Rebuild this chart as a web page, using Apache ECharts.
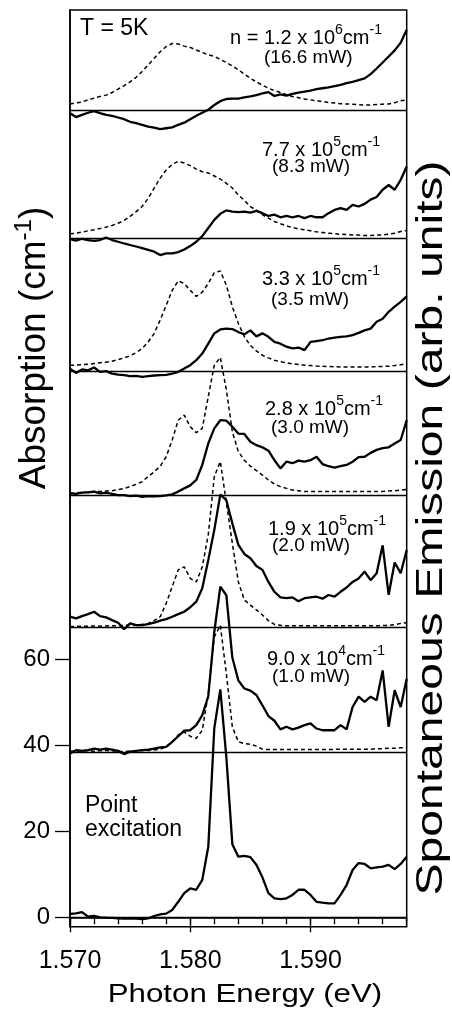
<!DOCTYPE html>
<html><head><meta charset="utf-8">
<script src="https://cdn.jsdelivr.net/npm/echarts@6/dist/echarts.min.js"></script>
<style>html,body{margin:0;padding:0;background:#fff}#c{width:452px;height:1012px}</style>
</head><body><div id="c"></div>
<script>
// Photon energy grid (eV)
const energy = [1.5700,1.5705,1.5710,1.5715,1.5720,1.5725,1.5730,1.5735,1.5740,1.5745,
1.5750,1.5755,1.5760,1.5765,1.5770,1.5775,1.5780,1.5785,1.5790,1.5795,
1.5800,1.5805,1.5810,1.5815,1.5820,1.5825,1.5830,1.5835,1.5840,1.5845,
1.5850,1.5855,1.5860,1.5865,1.5870,1.5875,1.5880,1.5885,1.5890,1.5895,
1.5900,1.5905,1.5910,1.5915,1.5920,1.5925,1.5930,1.5935,1.5940,1.5945,
1.5950,1.5955,1.5960,1.5965,1.5970,1.5975,1.5980];

// Absorption (cm^-1), relative to each panel's baseline (solid curves)
const abs1 = [-0.6,-1.5,-1.0,-0.5,-0.1,-0.6,-1.0,-1.2,-1.6,-2.0,-2.6,-2.9,-3.3,-3.7,-3.95,-4.3,-4.1,-3.9,-3.3,-2.8,-2.0,-1.2,-0.5,0.2,1.3,2.2,2.7,2.8,2.8,3.1,3.3,3.6,4.0,4.3,3.4,3.8,3.5,3.9,4.2,4.4,4.65,5.0,5.2,5.4,5.7,6.0,6.4,6.7,7.1,7.5,8.5,9.8,11.2,12.6,14.0,15.8,18.8];
const abs2 = [-0.2,-0.55,-0.1,-0.4,-0.6,-0.4,0.2,-0.4,-0.8,-1.2,-1.55,-1.9,-2.3,-2.7,-3.1,-3.9,-3.5,-3.5,-3.2,-2.6,-1.8,-0.8,0.5,2.4,4.3,5.7,6.5,6.2,6.1,6.2,6.0,6.4,5.85,5.2,5.5,4.9,5.2,4.9,5.2,4.7,5.2,4.9,4.9,5.85,6.6,7.0,6.6,7.8,7.4,8.0,9.0,9.6,11.3,12.4,11.3,13.6,16.7];
const abs3 = [0.6,-0.4,0.4,0.2,0.85,-0.15,0,-0.55,-0.8,-0.9,-1.15,-1.1,-1.3,-1.15,-1.0,-0.9,-0.85,-0.55,-0.15,0.6,1.4,2.55,4.1,6.4,8.8,9.7,9.9,9.8,9.1,8.6,9.5,8.1,8.8,8.0,6.8,6.4,5.7,5.3,5.5,4.9,6.8,7.0,7.2,7.6,7.8,8.0,8.1,8.4,8.9,9.5,9.9,11.5,12.2,13.8,15.0,16.1,17.4];
const abs4 = [0.4,0.25,0.55,0.6,0.8,0.4,0.55,0.25,0,0,-0.25,-0.15,-0.4,-0.25,-0.3,-0.25,-0.1,0.15,0.8,1.55,2.25,3.5,7.0,12.0,15.5,17.4,17.3,15.9,14.3,14.2,12.4,11.6,11.1,10.3,8.1,6.2,7.75,7.4,8.0,7.75,8.1,8.9,7.2,6.7,6.4,6.7,7.0,7.75,8.8,8.9,9.8,10.5,10.9,11.1,12.0,12.8,17.4];
const abs5 = [2.4,2.0,2.55,3.0,3.55,2.55,2.25,1.6,1.0,-0.5,0.85,0.45,0.45,0.7,1.0,1.5,1.85,2.4,3.0,3.55,4.6,5.9,9.0,15.6,22.6,30.8,29.5,24.1,19.1,17.0,16.0,14.2,13.3,10.5,8.2,6.9,6.7,6.9,6.0,6.7,6.9,7.05,6.6,7.45,7.05,8.2,9.2,10.5,11.3,12.9,10.9,12.5,19.0,7.5,15.0,12.5,17.9];
const abs6 = [-0.3,0.45,0.3,0.45,0.8,0.6,0.8,0.6,0.3,-0.45,0.1,0.3,0.45,0.6,0.85,1.1,1.25,2.4,3.7,5.0,5.1,6.3,8.6,13.0,28.0,38.5,36.5,22.0,16.7,14.8,14.3,13.3,10.9,8.4,7.3,5.3,5.9,5.3,5.7,6.3,6.7,5.5,5.1,5.1,5.1,6.3,5.3,10.5,12.9,11.7,12.9,12.1,19.0,5.9,14.4,10.5,17.1];
const abs7 = [0.8,0.9,1.2,0.15,0.3,0,-0.1,-0.15,-0.25,-0.3,-0.3,-0.3,-0.4,-0.25,0.3,0.7,0.85,1.7,3.6,5.6,6.7,6.4,8.7,16.4,44.0,53.0,37.3,17.0,14.1,14.3,14.0,12.2,9.3,5.6,4.4,4.2,4.4,5.2,6.4,6.4,5.2,3.6,3.4,3.25,3.25,5.2,7.5,11.0,12.6,12.4,11.4,11.6,11.8,12.2,11.2,12.4,14.1];

// Spontaneous emission (arb. units, same scale), relative to baseline (dashed curves)
const emi1 = [1.55,1.8,2.0,2.5,2.9,3.3,3.6,4.2,5.0,5.8,6.7,7.75,9.1,10.6,12.2,13.7,14.9,15.6,15.5,15.0,14.7,14.1,13.5,13.0,12.6,11.9,11.2,10.4,9.5,8.5,7.5,6.7,5.9,5.2,4.65,4.2,3.7,3.3,3.0,2.7,2.5,2.3,2.1,1.9,1.8,1.6,1.55,1.5,1.4,1.3,1.3,1.4,1.5,1.55,1.85,2.3,2.5];
const emi2 = [1.05,1.2,1.45,1.75,2.0,2.3,2.6,3.0,3.5,4.15,5.1,6.2,7.4,9.3,11.7,14.0,15.9,17.2,17.9,17.5,16.9,16.1,15.5,15.2,14.5,13.8,12.8,11.7,10.1,8.8,7.4,6.5,5.5,4.7,3.9,3.4,2.9,2.5,2.2,2.0,1.75,1.5,1.35,1.2,1.05,0.95,0.9,0.8,0.75,0.65,0.65,0.75,0.8,0.95,1.2,1.6,1.8];
const emi3 = [1.4,1.4,1.5,1.6,1.8,1.95,2.1,2.3,2.7,3.1,3.6,4.3,5.3,6.8,8.8,11.9,15.3,18.8,21.0,20.4,18.8,17.4,18.4,20.4,22.9,23.3,20.0,15.0,11.1,8.0,6.0,4.7,3.7,3.1,2.55,2.2,1.95,1.7,1.55,1.4,1.3,1.2,1.15,1.1,1.05,1.0,1.0,1.0,1.0,1.0,1.0,1.05,1.1,1.15,1.3,1.5,1.8];
const emi4 = [0.4,0.55,0.6,0.7,0.8,0.85,0.95,1.0,1.25,1.55,1.95,2.5,3.1,4.3,5.4,6.7,8.9,12.8,17.4,18.6,15.9,14.5,15.5,22.9,30.2,32.0,24.5,14.7,10.1,8.1,6.7,5.7,4.65,3.5,2.55,1.95,1.55,1.15,1.0,0.8,0.8,0.8,0.8,0.8,0.8,0.8,0.8,0.8,0.8,0.8,0.8,0.8,0.8,0.95,1.0,1.15,1.3];
const emi5 = [0.1,0.15,0.2,0.2,0.25,0.2,0.25,0.3,0.3,0.4,0.45,0.55,0.6,0.85,1.5,2.4,5.5,9.4,13.3,14.0,11.3,10.5,14.0,21.5,35.0,38.5,29.0,19.5,10.5,6.3,5.1,4.0,2.8,1.5,0.6,0.4,0.3,0.3,0.3,0.3,0.3,0.3,0.3,0.3,0.3,0.3,0.3,0.3,0.3,0.3,0.3,0.3,0.35,0.4,0.55,0.85,1.0];
const emi6 = [0.3,0.2,0.4,0.3,0.2,0.3,0.4,0.3,0.2,0.1,0.3,0.3,0.4,0.4,0.5,0.7,1.25,2.4,4.0,4.7,3.7,3.2,5.1,13.6,26.8,29.5,18.3,5.9,2.4,2.0,1.85,1.4,0.7,0.6,0.6,0.6,0.6,0.6,0.6,0.6,0.6,0.6,0.6,0.6,0.65,0.65,0.65,0.65,0.7,0.7,0.7,0.8,0.8,0.9,0.9,1.0,1.0];

// Baseline of each panel on the absorption scale (cm^-1)
const panelOffsets = [187.6, 157.9, 127.0, 98.2, 67.5, 38.4, 0];

// Panel annotations
const densityMantissa = ['1.2','7.7','3.3','2.8','1.9','9.0'];
const densityExponent = ['6','5','5','5','5','4'];
const pumpPower = ['16.6','8.3','3.5','3.0','2.0','1.0'];

// Tick labels
const absorptionTicks = [0, 20, 40, 60];
const energyTicks = [1.570, 1.580, 1.590];

// ---- layout / style ----
const FONT = '"Liberation Sans", Arial, Helvetica, sans-serif';
const line1Pos = [[230,36],[262,148],[262,277],[265,407],[268,527],[267,657]];
const line2Pos = [[264,58],[272,167],[271,300],[271,428],[272,546],[272,677]];
const gridBox = {left:70, right:45.3, top:10, bottom:85.3};
const Y_MIN = -2.19, Y_MAX = 211.0, X_MIN = 1.570, X_MAX = 1.598;

const absSets = [abs1, abs2, abs3, abs4, abs5, abs6, abs7];
const emiSets = [emi1, emi2, emi3, emi4, emi5, emi6];

const series = [];
absSets.forEach((arr, p) => {
  series.push({
    type: 'line', xAxisIndex: 0, yAxisIndex: 0,
    data: energy.map((e, i) => [e, panelOffsets[p] + arr[i]]),
    symbol: 'none', showSymbol: false, z: 4,
    lineStyle: {color: '#000', width: 2.3},
    markLine: p === 0 ? {
      silent: true, symbol: ['none', 'none'], label: {show: false},
      lineStyle: {color: '#000', type: 'solid', width: 1.3},
      data: panelOffsets.map(v => ({yAxis: v}))
    } : undefined
  });
});
emiSets.forEach((arr, p) => {
  series.push({
    type: 'line', xAxisIndex: 0, yAxisIndex: 0,
    data: energy.map((e, i) => [e, panelOffsets[p] + arr[i]]),
    symbol: 'none', showSymbol: false, z: 3,
    lineStyle: {color: '#000', width: 1.5, type: [4, 3]}
  });
});

const graphic = [];
function txt(x, y, text, opts) {
  return Object.assign({
    type: 'text', x: x, y: y, z: 100, silent: true,
    style: Object.assign({
      text: text, fill: '#000', fontFamily: FONT, fontSize: 20,
      align: 'left', verticalAlign: 'middle',
      textAlign: 'left', textVerticalAlign: 'middle'
    }, opts.style || {})
  }, opts.el || {});
}
const supRich = {
  m: {fontSize: 20, fontFamily: FONT, fill: '#000', verticalAlign: 'bottom'},
  s: {fontSize: 14, fontFamily: FONT, fill: '#000', verticalAlign: 'top', padding: [0, 0, 11, 0]}
};
densityMantissa.forEach((m, i) => {
  const pre = i === 0 ? 'n = ' : '';
  graphic.push(txt(line1Pos[i][0], line1Pos[i][1],
    '{m|' + pre + m + ' x 10}{s|' + densityExponent[i] + '}{m|cm}{s|-1}', {style: {rich: supRich}}));
  graphic.push(txt(line2Pos[i][0], line2Pos[i][1], '(' + pumpPower[i] + ' mW)', {style: {fontSize: 19}}));
});
graphic.push(txt(80, 29, 'T = 5K', {style: {fontSize: 23}}));
graphic.push(txt(85, 818, 'Point\nexcitation', {style: {fontSize: 23, lineHeight: 24}}));
// axis titles
graphic.push(txt(33, 348, '{m|Absorption (cm}{s|-1}{m|)}', {
  el: {rotation: Math.PI / 2},
  style: {align: 'center', textAlign: 'center', rich: {
    m: {fontSize: 37, fontFamily: FONT, fill: '#000', verticalAlign: 'bottom'},
    s: {fontSize: 24, fontFamily: FONT, fill: '#000', verticalAlign: 'top', padding: [0, 0, 17, 0]}
  }}
}));
graphic.push(txt(432, 528, 'Spontaneous Emission (arb. units)', {
  el: {rotation: Math.PI / 2, scaleX: 1.3},
  style: {align: 'center', textAlign: 'center', fontSize: 37}
}));
graphic.push(txt(245, 995, 'Photon Energy (eV)', {
  el: {scaleX: 1.25},
  style: {align: 'center', textAlign: 'center', fontSize: 25}
}));

const option = {
  animation: false,
  backgroundColor: '#fff',
  grid: [
    Object.assign({show: true, borderColor: '#000', borderWidth: 1.5, backgroundColor: 'transparent'}, gridBox),
    Object.assign({show: false}, gridBox)
  ],
  xAxis: [{
    type: 'value', gridIndex: 0, min: X_MIN, max: X_MAX, interval: 0.002,
    axisLine: {show: true, lineStyle: {color: '#000', width: 1.5}},
    axisTick: {show: true, length: 7, lineStyle: {color: '#000', width: 1.3}},
    axisLabel: {customValues: energyTicks, formatter: v => v.toFixed(3), color: '#000',
      fontSize: 25, fontFamily: FONT, margin: 22},
    splitLine: {show: false}
  }, {
    type: 'value', gridIndex: 1, min: X_MIN, max: X_MAX,
    axisLine: {show: false},
    axisTick: {show: true, customValues: energyTicks, length: 15, lineStyle: {color: '#000', width: 1.3}},
    axisLabel: {show: false}, splitLine: {show: false}
  }],
  yAxis: [{
    type: 'value', gridIndex: 0, min: Y_MIN, max: Y_MAX,
    axisLine: {show: true, lineStyle: {color: '#000', width: 1.5}},
    axisTick: {show: true, customValues: absorptionTicks, length: 15, lineStyle: {color: '#000', width: 1.3}},
    axisLabel: {customValues: absorptionTicks, color: '#000', fontSize: 24, fontFamily: FONT, margin: 20},
    splitLine: {show: false}
  }, {
    type: 'value', gridIndex: 1, min: Y_MIN, max: Y_MAX, show: false
  }],
  series: series,
  graphic: graphic
};
const chart = echarts.init(document.getElementById('c'), null, {renderer: 'canvas'});
chart.setOption(option);
</script></body></html>
